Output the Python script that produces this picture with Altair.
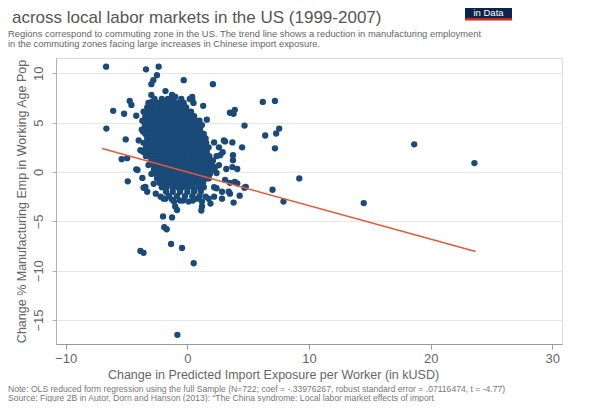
import altair as alt
import pandas as pd

FONT = "Liberation Sans"

# ---- scattered commuting zones (x: kUSD per worker, y: % points)
outer_x = [23.6, 18.65, 14.5, 9.2, 7.9, 7.0, 7.55, 7.3, 6.2, 7.2, 6.4, 7.2, 4.7, 4.5,
           3.5, 3.9, 3.8, 2.1, 1.3, 4.7, 4.3, 3.8, 1.15, 3.1, 3.7, 3.0, 3.75, 3.75,
           3.7, 4.1, 3.2, 2.9, 2.4, 2.7, 2.6, 2.2, 2.4, 3.1, 3.5, 3.9, 4.1, 4.8,
           2.2, 2.4, 2.85, 2.2, 3.4, 2.85, 3.5, 1.5, 0.8, 1.2, 1.2, 1.75, 1.9, 0.1,
           -0.6, -1.1, -1.8, 0.4, 0.4, 0.5, 1.2, 1.35, 1.07, 0.93, 1.6, 1.75, 2.0,
           2.3, 2.2, 2.6,
           -6.68, -3.4, -2.36, -2.5, -2.8, -2.96, -0.3, -2.96, -1.8, -1.26, -1.0,
           -4.74, -4.6, -6.1, -5.2, -4.2, -6.66, -5.07, -3.86, -5.4, -4.95, -4.2,
           -4.9, -3.7, -3.45, -3.3, -3.6, -2.77, -2.6, -2.2, -1.95, -1.26, -1.0,
           -0.85, -2.0, -1.26, -1.9, -1.7, -1.34, -0.44, -3.86, -3.6, -0.82, 0.52,
           -4.0, -3.65, -4.1, -2.9, -3.2]
outer_y = [0.9, 2.8, -3.15, -0.65, -3.0, -1.8, 4.4, 3.9, 7.1, 7.2, 3.7, 2.4, 4.7, 2.5,
           6.0, 6.3, 5.9, 8.9, 6.7, -1.6, -2.4, -3.1, -3.9, 3.1, 3.0, 3.2, 1.7, 1.2,
           0.5, 0.3, 0.3, 2.0, 1.6, 1.7, 0.7, 0.2, -0.1, -0.8, -1.1, -1.0, -1.15, -1.5,
           -1.55, -1.65, -2.7, -2.5, -2.0, -2.0, -2.2, -2.5, -2.7, -3.0, -3.5, -2.7, -3.2, -3.0,
           -2.9, -3.0, -2.7, 7.6, 7.3, 7.0, 3.6, 3.1, 2.6, 4.25, 5.3, 1.2, 0.9,
           0.5, 3.0, 2.5,
           10.67, 10.4, 10.67, 9.8, 9.3, 8.9, 9.3, 7.8, 8.2, 7.8, 7.6,
           7.2, 6.8, 6.2, 5.9, 5.7, 4.4, 3.3, 2.2, 1.3, 1.4, 0.27,
           -0.95, -0.6, -1.5, -2.0, -1.6, -1.2, -2.2, -2.5, -2.7, -2.8, -3.5,
           -3.85, -4.5, -4.6, -5.6, -5.8, -7.3, -7.7, -8.0, -8.2, -16.5, -9.25,
           3.2, 4.1, 0.2, 7.1, 7.0]

# ---- the dense core of the cloud, read row by row (row value, x positions)
core_rows_y = [7.4, 7.0, 6.55, 6.1, 5.65, 5.2, 4.75, 4.3, 3.85, 3.4, 2.95, 2.5, 2.05,
               1.6, 1.15, 0.7, 0.25, -0.2, -0.65, -1.1, -1.55, -2.0, -2.45, -2.9]
core_rows_x = [
    [-2.7, -2.1, -1.6, -1.2, -0.5, 0.2],
    [-3.1, -2.85, -2.4, -2.0, -1.55, -1.1, -0.75, -0.3],
    [-3.3, -2.9, -2.5, -2.1, -1.7, -1.3, -0.9, -0.5, -0.1],
    [-3.6, -3.2, -2.8, -2.4, -2.0, -1.6, -1.2, -0.8, -0.4, 0.0, 0.3],
    [-3.45, -3.05, -2.65, -2.25, -1.85, -1.45, -1.05, -0.65, -0.25, 0.15, 0.55],
    [-3.7, -3.3, -2.9, -2.5, -2.1, -1.7, -1.3, -0.9, -0.5, -0.1, 0.3, 0.7, 1.0],
    [-3.5, -3.1, -2.7, -2.3, -1.9, -1.5, -1.1, -0.7, -0.3, 0.1, 0.5, 0.85, 1.2],
    [-3.75, -3.3, -2.9, -2.5, -2.1, -1.7, -1.3, -0.9, -0.5, -0.1, 0.3, 0.7, 1.05],
    [-3.45, -3.05, -2.65, -2.25, -1.85, -1.45, -1.05, -0.65, -0.25, 0.15, 0.55, 0.95, 1.35],
    [-3.3, -2.85, -2.45, -2.05, -1.65, -1.25, -0.85, -0.45, -0.05, 0.35, 0.75, 1.15, 1.5],
    [-3.6, -3.2, -2.8, -2.4, -2.0, -1.6, -1.2, -0.8, -0.4, 0.0, 0.4, 0.8, 1.2, 1.55],
    [-3.4, -3.0, -2.6, -2.2, -1.8, -1.4, -1.0, -0.6, -0.2, 0.2, 0.6, 1.0, 1.4, 1.75],
    [-3.65, -3.2, -2.8, -2.4, -2.0, -1.6, -1.2, -0.8, -0.4, 0.0, 0.4, 0.8, 1.2, 1.6],
    [-3.4, -3.0, -2.6, -2.2, -1.8, -1.4, -1.0, -0.6, -0.2, 0.2, 0.6, 1.0, 1.4, 1.8],
    [-3.0, -2.6, -2.2, -1.8, -1.4, -1.0, -0.6, -0.2, 0.2, 0.6, 1.0, 1.4, 1.8, 2.1],
    [-3.2, -2.8, -2.4, -2.0, -1.6, -1.2, -0.8, -0.4, 0.0, 0.4, 0.8, 1.2, 1.6, 1.95],
    [-2.75, -2.35, -1.95, -1.55, -1.15, -0.75, -0.35, 0.05, 0.45, 0.85, 1.25, 1.65, 2.05],
    [-2.95, -2.55, -2.15, -1.75, -1.35, -0.95, -0.55, -0.15, 0.25, 0.65, 1.05, 1.45, 1.85],
    [-2.5, -2.1, -1.7, -1.3, -0.9, -0.5, -0.1, 0.3, 0.7, 1.1, 1.5, 1.75],
    [-2.3, -1.9, -1.5, -1.1, -0.7, -0.3, 0.1, 0.5, 0.9, 1.3],
    [-2.1, -1.7, -1.2, -0.8, -0.4, 0.0, 0.45, 0.9, 1.35],
    [-1.75, -1.2, -0.6, 0.0, 0.55, 1.1],
    [-1.5, -0.85, -0.2, 0.4, 1.0],
    [-0.35, 0.45],
]

# ---- OLS trend line end points
trend_x = [-7.0, 23.7]
trend_y = [2.37, -8.06]

title_line = "across local labor markets in the US (1999-2007)"
subtitle_lines = ["Regions correspond to commuting zone in the US. The trend line shows a reduction in manufacturing employment",
                  " in the commuting zones facing large increases in Chinese import exposure."]
note_text = ("Note: OLS reduced form regression using the full Sample (N=722; coef = -.33976267, "
             "robust standard error = .07116474, t = -4.77)")
source_text = ("Source: Figure 2B in Autor, Dorn and Hanson (2013): \u201cThe China syndrome: "
               "Local labor market effects of import")
x_title = "Change in Predicted Import Exposure per Worker (in kUSD)"
y_title = "Change % Manufacturing Emp in Working Age Pop"

# ---- build tables
px, py = list(outer_x), list(outer_y)
for ry, xs in zip(core_rows_y, core_rows_x):
    px.extend(xs)
    py.extend([ry] * len(xs))
points_df = pd.DataFrame({"x": px, "y": py})
trend_df = pd.DataFrame({"x": trend_x, "y": trend_y})

xscale = alt.Scale(domain=[-10.8, 30.8], nice=False, zero=False)
yscale = alt.Scale(domain=[-17.43, 11.55], nice=False, zero=False)

xaxis = alt.Axis(values=[-10, 0, 10, 20, 30], grid=False, domainColor="#9a9a9a",
                 tickColor="#9a9a9a", tickSize=5, labelFontSize=13, labelColor="#666666",
                 labelFont=FONT, labelPadding=3, title=x_title, titleFont=FONT,
                 titleFontSize=12.5, titleFontWeight="normal", titleColor="#666666",
                 titlePadding=3, titleX=217)
yaxis = alt.Axis(values=[-15, -10, -5, 0, 5, 10], grid=True, gridColor="#e6e6e6",
                 domainColor="#b0b0b0", tickColor="#b0b0b0", tickSize=4, labelAngle=270,
                 labelFontSize=13, labelColor="#666666", labelFont=FONT, labelPadding=7,
                 title=y_title, titleFont=FONT, titleFontSize=12.5, titleFontWeight="normal",
                 titleColor="#666666", titlePadding=4)

points = alt.Chart(points_df).mark_circle(size=40, color="#1a4a78", opacity=1).encode(
    x=alt.X("x:Q", scale=xscale, axis=xaxis),
    y=alt.Y("y:Q", scale=yscale, axis=yaxis),
)
trend = alt.Chart(trend_df).mark_line(color="#e5583c", strokeWidth=1.5).encode(
    x=alt.X("x:Q", scale=xscale),
    y=alt.Y("y:Q", scale=yscale),
)


def label(text, x, y, size, color, align="left"):
    return alt.Chart(pd.DataFrame({"t": [text]})).mark_text(
        align=align, baseline="alphabetic", font=FONT, fontSize=size, color=color).encode(
        text="t:N", x=alt.value(x), y=alt.value(y))


title_mark = label(title_line, -44, -35.5, 17, "#555555")
sub1 = label(subtitle_lines[0], -48, -21.5, 9.4, "#666666")
sub2 = label(subtitle_lines[1], -48, -11, 9.4, "#666666")
note = label(note_text, -48, 333.5, 8.6, "#777777")
src = label(source_text, -48, 342.5, 8.6, "#777777")

logo_df = pd.DataFrame({"t": ["in Data"]})
logo_box = alt.Chart(logo_df).mark_rect(color="#0b2548").encode(
    x=alt.value(409), x2=alt.value(456), y=alt.value(-50), y2=alt.value(-40))
logo_bar = alt.Chart(logo_df).mark_rect(color="#ce261e").encode(
    x=alt.value(409), x2=alt.value(456), y=alt.value(-40), y2=alt.value(-37.5))
logo_txt = label("in Data", 432.5, -42, 9.5, "white", align="center")

chart = alt.layer(points, trend, title_mark, sub1, sub2, note, src,
                  logo_box, logo_bar, logo_txt).properties(
    width=506, height=286,
    autosize=alt.AutoSizeParams(type="none"),
    padding={"left": 48, "top": 50, "right": 20, "bottom": 58},
).configure_view(strokeWidth=0).configure(background="white")

chart.save("out.html", embed_options={"renderer": "svg", "actions": False})
